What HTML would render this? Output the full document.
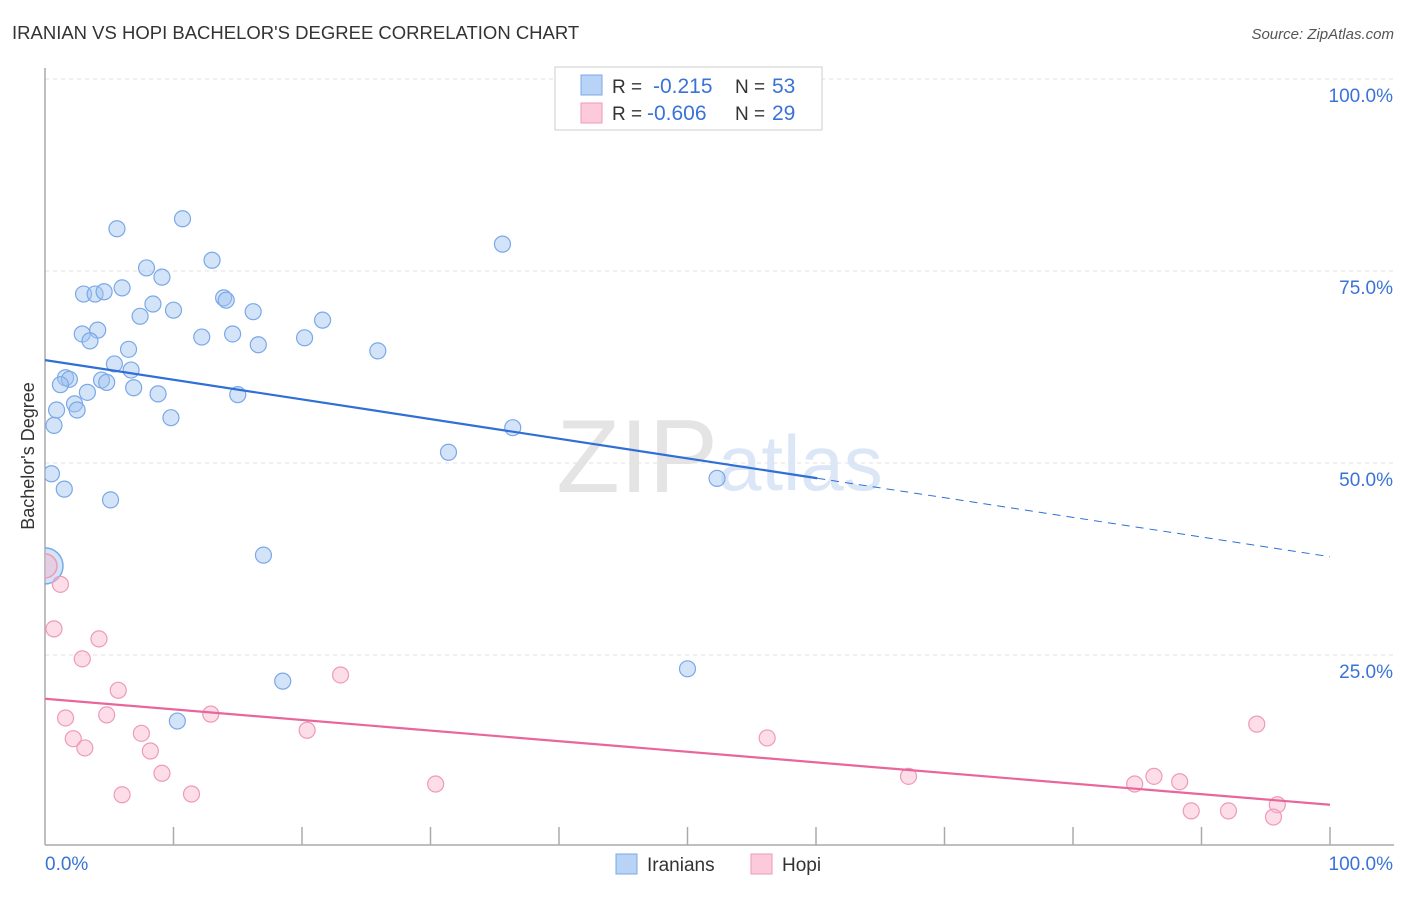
<!DOCTYPE html>
<html><head><meta charset="utf-8"><style>
body{margin:0;background:#fff;font-family:"Liberation Sans",sans-serif}
svg text{font-family:"Liberation Sans",sans-serif}
</style></head><body>
<svg id="chart" width="1406" height="892" xmlns="http://www.w3.org/2000/svg">
<text x="12" y="39" font-size="18.5" fill="#333">IRANIAN VS HOPI BACHELOR'S DEGREE CORRELATION CHART</text>
<text x="1394" y="39" font-size="15" fill="#555" font-style="italic" text-anchor="end">Source: ZipAtlas.com</text>
<text x="718" y="492" font-size="104" fill="#e4e4e4" text-anchor="end" font-family="Liberation Serif">ZIP</text>
<text x="718" y="490" font-size="78" fill="#dbe7f6">atlas</text>
<g id="grid"></g>
<g id="axes"></g>
<defs><clipPath id="plotclip"><rect x="45" y="60" width="1360" height="790"/></clipPath></defs>
<g id="marks" clip-path="url(#plotclip)"></g>
<text x="34" y="456" font-size="18" fill="#333" text-anchor="middle" transform="rotate(-90 34 456)">Bachelor's Degree</text>
<g>
<rect x="555" y="67" width="267" height="63" fill="#fff" stroke="#ccc"/>
<rect x="581" y="75" width="21" height="20" fill="#b8d3f5" stroke="#7aa8e8"/>
<text x="612" y="93" font-size="19" fill="#333">R = </text><text x="653" y="93" font-size="21" fill="#3a73d6">-0.215</text>
<text x="735" y="93" font-size="19" fill="#333">N = </text><text x="772" y="93" font-size="21" fill="#3a73d6">53</text>
<rect x="581" y="103" width="21" height="20" fill="#fccadb" stroke="#ee9ab8"/>
<text x="612" y="120" font-size="19" fill="#333">R = </text><text x="647" y="120" font-size="21" fill="#3a73d6">-0.606</text>
<text x="735" y="120" font-size="19" fill="#333">N = </text><text x="772" y="120" font-size="21" fill="#3a73d6">29</text>
</g>
<g>
<rect x="616" y="854" width="21" height="20" fill="#b8d3f5" stroke="#7aa8e8"/>
<text x="647" y="871" font-size="19" fill="#333">Iranians</text>
<rect x="751" y="854" width="21" height="20" fill="#fccadb" stroke="#ee9ab8"/>
<text x="782" y="871" font-size="19" fill="#333">Hopi</text>
</g>
</svg>
<script>
const iranX=[5.6,10.7,35.6,7.9,9.1,13.0,3.0,3.9,4.6,6.0,8.4,7.4,10.0,13.9,14.1,16.2,21.6,2.9,4.1,3.5,12.2,14.6,16.6,20.2,25.9,6.5,5.4,6.7,1.6,1.9,1.2,4.4,4.8,3.3,6.9,8.8,15.0,2.3,0.9,2.5,9.8,0.7,36.4,31.4,0.5,1.5,5.1,52.3,17.0,18.5,50.0,10.3];
const iranY=[80.5,81.8,78.5,75.4,74.2,76.4,72.0,72.0,72.3,72.8,70.7,69.1,69.9,71.5,71.2,69.7,68.6,66.8,67.3,65.9,66.4,66.8,65.4,66.3,64.6,64.8,62.9,62.1,61.1,60.9,60.2,60.8,60.5,59.2,59.8,59.0,58.9,57.7,56.9,56.9,55.9,54.9,54.6,51.4,48.6,46.6,45.2,48.0,38.0,21.6,23.2,16.4];
const hopiX=[1.2,0.7,4.2,2.9,5.7,23.0,1.6,4.8,12.9,2.2,3.1,7.5,8.2,20.4,9.1,6.0,11.4,30.4,56.2,94.3,67.2,84.8,86.3,88.3,89.2,92.1,95.9,95.6];
const hopiY=[34.2,28.4,27.1,24.5,20.4,22.4,16.8,17.2,17.3,14.1,12.9,14.8,12.5,15.2,9.6,6.8,6.9,8.2,14.2,16.0,9.2,8.2,9.2,8.5,4.7,4.7,5.5,3.9];
const bigPoint=[0,36.6];
const iranTrend=[63.4,37.8];
const hopiTrend=[19.3,5.5];
const yTicks=[25,50,75,100];
const yTickLabels=["25.0%","50.0%","75.0%","100.0%"];
const xTicks=[10,20,30,40,50,60,70,80,90,100];

const X=v=>45+v*12.85, Y=v=>847-v*7.68;
const NS="http://www.w3.org/2000/svg";
function mk(parent,tag,attrs){const e=document.createElementNS(NS,tag);for(const k in attrs)e.setAttribute(k,attrs[k]);document.getElementById(parent).appendChild(e);return e;}
const grid="grid",axes="axes",marks="marks";
yTicks.forEach((t,i)=>{
  const l=mk(grid,"line",{x1:45,x2:1394,y1:Y(t),y2:Y(t),stroke:"#e2e2e2","stroke-dasharray":"4,4"});
  
  
  const tx=mk(axes,"text",{x:1393,y:Y(t)+23,"font-size":19,fill:"#3a73d6","text-anchor":"end"});
  tx.textContent=yTickLabels[i];
  
  
});
const ya=mk(axes,"line",{x1:45,x2:45,y1:68,y2:845,stroke:"#aaa","stroke-width":1.5});


const xa=mk(axes,"line",{x1:45,x2:1394,y1:845,y2:845,stroke:"#aaa","stroke-width":1.5});


xTicks.forEach(t=>{
  const l=mk(axes,"line",{x1:X(t),x2:X(t),y1:827,y2:845,stroke:"#aaa","stroke-width":1.5});
  
  
});
const x0=mk(axes,"text",{x:45,y:870,"font-size":19,fill:"#3a73d6"});x0.textContent="0.0%";


const x1=mk(axes,"text",{x:1393,y:870,"font-size":19,fill:"#3a73d6","text-anchor":"end"});x1.textContent="100.0%";



const bb=mk(marks,"circle",{cx:X(bigPoint[0]),cy:Y(bigPoint[1]),r:18,fill:"rgba(160,195,240,0.45)",stroke:"#7aa8e8","stroke-width":1.5});


const pb=mk(marks,"circle",{cx:X(bigPoint[0]),cy:Y(bigPoint[1]),r:12,fill:"rgba(248,180,205,0.45)",stroke:"#ee9ab8","stroke-width":1.5});


iranX.forEach((v,i)=>{
  const c=mk(marks,"circle",{cx:X(v),cy:Y(iranY[i]),r:8,fill:"rgba(160,195,240,0.45)",stroke:"#7aa8e8","stroke-width":1.2});
  
  
});
hopiX.forEach((v,i)=>{
  const c=mk(marks,"circle",{cx:X(v),cy:Y(hopiY[i]),r:8,fill:"rgba(248,180,205,0.45)",stroke:"#ee9ab8","stroke-width":1.2});
  
  
});
const split=60.1, yAt=(a,x)=>a[0]+(a[1]-a[0])*x/100;
const t1=mk(marks,"line",{x1:X(0),y1:Y(iranTrend[0]),x2:X(split),y2:Y(yAt(iranTrend,split)),stroke:"#2f6fd6","stroke-width":2.2});


const t2=mk(marks,"line",{x1:X(split),y1:Y(yAt(iranTrend,split)),x2:X(100),y2:Y(iranTrend[1]),stroke:"#2f6fd6","stroke-width":1,"stroke-dasharray":"8,6"});


const t3=mk(marks,"line",{x1:X(0),y1:Y(hopiTrend[0]),x2:X(100),y2:Y(hopiTrend[1]),stroke:"#e8669a","stroke-width":2.2});


</script>
</body></html>
